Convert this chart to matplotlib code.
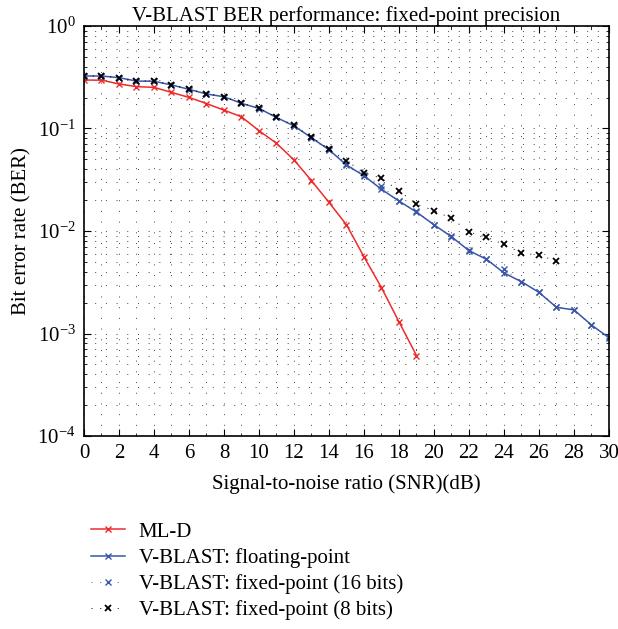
import matplotlib
matplotlib.use("Agg")
import matplotlib.pyplot as plt
from matplotlib.ticker import MultipleLocator, LogLocator, NullFormatter

plt.rcParams["font.family"] = ["Liberation Serif", "DejaVu Serif"]
plt.rcParams["mathtext.fontset"] = "stix"

snr = list(range(0, 31))

ml_d_snr = list(range(0, 20))
ml_d = [0.297, 0.296, 0.272, 0.256, 0.252, 0.225, 0.201, 0.175, 0.151, 0.130,
        0.0952, 0.0717, 0.0493, 0.031, 0.019, 0.0115, 0.0056, 0.0028, 0.0013, 0.00061]

vblast_float = [0.325, 0.325, 0.313, 0.290, 0.289, 0.266, 0.241, 0.217, 0.204, 0.176,
                0.157, 0.128, 0.106, 0.0813, 0.062, 0.044, 0.0346, 0.0255, 0.0196, 0.0153,
                0.0115, 0.0088, 0.00643, 0.0053, 0.0039, 0.0032, 0.00252, 0.0018, 0.0017,
                0.00121, 0.00091]

vblast_16 = [0.326, 0.325, 0.312, 0.291, 0.288, 0.267, 0.240, 0.218, 0.203, 0.177,
             0.156, 0.129, 0.105, 0.082, 0.063, 0.045, 0.0352, 0.0277, 0.0194, 0.0155,
             0.0114, 0.0089, 0.0065, 0.0053, 0.00426, 0.0032, 0.00255, 0.00182, 0.0017,
             0.0012, 0.00093]

vblast_8_snr = list(range(0, 28))
vblast_8 = [0.326, 0.326, 0.313, 0.291, 0.290, 0.267, 0.242, 0.218, 0.205, 0.177,
            0.158, 0.129, 0.107, 0.082, 0.063, 0.0485, 0.037, 0.0327, 0.0247, 0.0183,
            0.0158, 0.0133, 0.0098, 0.0087, 0.0074, 0.0061, 0.0058, 0.0051]

fig = plt.figure(figsize=(6.18, 6.29), dpi=100)
ax = fig.add_axes([0.1359, 0.3068, 0.8495, 0.6519])

red = "#ee2b2b"
blue = "#3a56a8"
sparse_dot = (0, (1, 8))

ax.semilogy(ml_d_snr, ml_d, color=red, lw=1.1, marker="x", ms=4.5, mew=1.0, label="ML-D")
ax.semilogy(snr, vblast_float, color=blue, lw=1.1, marker="x", ms=4.5, mew=1.0,
            label="V-BLAST: floating-point")
ax.semilogy(snr, vblast_16, color=blue, lw=0.7, ls=sparse_dot, marker="x", ms=4.5, mew=1.0,
            label="V-BLAST: fixed-point (16 bits)")
ax.semilogy(vblast_8_snr, vblast_8, color="black", lw=0.7, ls=sparse_dot, marker="x", ms=4.5,
            mew=1.3, label="V-BLAST: fixed-point (8 bits)")

ax.set_xlim(0, 30)
ax.set_ylim(1e-4, 1)
ax.xaxis.set_major_locator(MultipleLocator(2))
ax.xaxis.set_minor_locator(MultipleLocator(1))
ax.yaxis.set_major_locator(LogLocator(base=10, numticks=10))
ax.yaxis.set_minor_locator(LogLocator(base=10, subs=range(2, 10), numticks=20))
ax.yaxis.set_minor_formatter(NullFormatter())

ax.grid(which="both", linestyle=(0, (1, 10)), color="#444444", lw=0.7)
ax.tick_params(which="both", direction="in", top=True, right=True, labelsize=15)
ax.tick_params(which="major", length=5, pad=6)
ax.tick_params(which="minor", length=2.5)
for s in ax.spines.values():
    s.set_linewidth(1.2)

ax.set_title("V-BLAST BER performance: fixed-point precision", fontsize=15, pad=0)
ax.set_xlabel("Signal-to-noise ratio (SNR)(dB)", fontsize=15, labelpad=8)
ax.set_ylabel("Bit error rate (BER)", fontsize=15)

fig.legend(loc="upper left", bbox_to_anchor=(0.147, 0.170), frameon=False, fontsize=15,
           handlelength=1.65, borderpad=0, borderaxespad=0, labelspacing=0.3,
           handletextpad=0.65)

fig.savefig("out.png", dpi=100)
